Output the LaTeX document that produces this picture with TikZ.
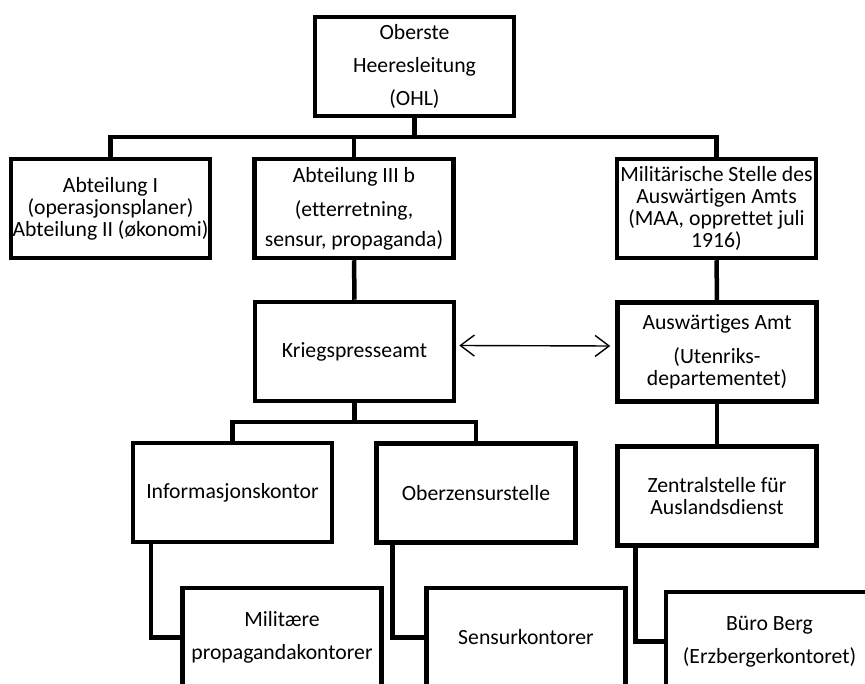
\documentclass[tikz,border=0pt]{standalone}
\usepackage{fontspec}
\setmainfont[Ligatures={NoCommon}]{Carlito}
\usetikzlibrary{arrows.meta}

\begin{document}
\begin{tikzpicture}[
  x=1pt,
  y=-1pt,
  box/.style={rectangle,draw=black,fill=white,line width=4.5pt,minimum width=199pt,minimum height=99pt,inner xsep=0pt,inner ysep=2pt,align=center,font=\fontsize{21.7}{22}\selectfont},
  link/.style={draw=black,line width=4.5pt},
  both/.style={draw=black,line width=1.4pt,{Straight Barb[length=14pt,width=21pt]}-{Straight Barb[length=14pt,width=21pt]}}
]
  \useasboundingbox (0,0) rectangle (865,684);
  \clip (0,0) rectangle (865,684);

  \node[box] (ohl) at (414.5,66.5) {Oberste\\[11pt]Heeresleitung\\[11pt](OHL)};

  \node[box] (abt1) at (110.5,208.5) {Abteilung I\\(operasjonsplaner)\\Abteilung II (økonomi)};
  \node[box] (abt3) at (354,208.5) {Abteilung III b\\[12pt](etterretning,\\[8pt]sensur, propaganda)};
  \node[box] (maa) at (716.5,208.5) {Militärische Stelle des\\Auswärtigen Amts\\(MAA, opprettet juli\\1916)};

  \node[box] (kpa) at (354.5,351.5) {Kriegspresseamt};
  \node[box] (aa) at (717,352) {Auswärtiges Amt\\[12pt](Utenriks-\\departementet)};

  \node[box] (info) at (232.5,492.5) {Informasjonskontor};
  \node[box] (ozs) at (476,493) {Oberzensurstelle};
  \node[box] (zsa) at (717,496) {Zentralstelle für\\Auslandsdienst};

  \node[box] (mil) at (282,637.5) {Militære\\[11pt]propagandakontorer};
  \node[box] (sens) at (526,637.5) {Sensurkontorer};
  \node[box,minimum width=207pt] (buro) at (769.5,641.5) {Büro Berg\\[11pt](Erzbergerkontoret)};

  \coordinate (top) at (414.5,137);
  \coordinate (mid) at (354.5,422);
  \draw[link] (ohl) -- (top);
  \draw[link] (abt1.north) |- (top);
  \draw[link] (abt3.north) |- (top);
  \draw[link] (maa.north) |- (top);
  \draw[link] (abt3) -- (kpa);
  \draw[link] (maa) -- (aa);
  \draw[link] (kpa) -- (mid);
  \draw[link] (info.north) |- (mid);
  \draw[link] (ozs.north) |- (mid);
  \draw[link] (aa) -- (zsa);
  \draw[link] ([xshift=20pt]info.south west) |- (mil.west);
  \draw[link] ([xshift=18pt]ozs.south west) |- (sens.west);
  \draw[link] ([xshift=20pt]zsa.south west) |- (buro.west);
  \draw[both] ([xshift=3pt,yshift=6pt]kpa.east) -- ([xshift=-5pt,yshift=6pt]aa.west);
\end{tikzpicture}
\end{document}
